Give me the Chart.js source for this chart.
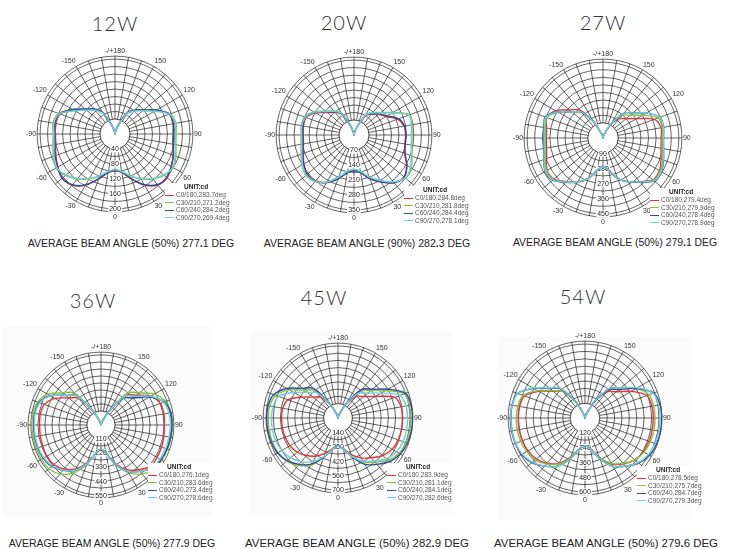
<!DOCTYPE html>
<html>
<head>
<meta charset="utf-8">
<script src="https://cdn.jsdelivr.net/npm/chart.js@4.4.1/dist/chart.umd.min.js"></script>
<style>
  html, body { margin: 0; padding: 0; background: #fff; }
  body { width: 737px; height: 549px; position: relative; overflow: hidden;
         font-family: "Liberation Sans", Arial, sans-serif; }
  .title { position: absolute; width: 120px; margin-left: -60px; text-align: center;
           font-family: Lato, "Open Sans", sans-serif; font-weight: 300; font-size: 20px;
           line-height: 20px; margin-top: -10px; color: #333; letter-spacing: 1px; }
  .caption { position: absolute; width: 260px; margin-left: -130px; text-align: center;
             color: #222; white-space: nowrap; line-height: 12px; margin-top: -6px; }
  .plot { position: absolute; }
  .paper { position: absolute; background: #fbfbfb; }
  .legend { position: absolute; font-size: 6.5px; line-height: 7.5px; color: #555;
            white-space: nowrap; background: #fff; margin-top: -4px; }
  .legend .unit { padding-left: 19px; font-weight: bold; color: #222; margin-bottom: 0.5px; }
  .legend i { display: inline-block; width: 9px; height: 1.3px; vertical-align: middle;
              margin-right: 2px; }
</style>
</head>
<body>
<script>
// angle labels, clockwise from the top (C-angle 180 down to -170, every 10 deg)
const angleLabels = ['-/+180','','','150','','','120','','','90','','','60','','','30','','',
                     '0','','','-30','','','-60','','','-90','','','-120','','','-150','',''];

const seriesNames = ['C0/180', 'C30/210', 'C60/240', 'C90/270'];
const seriesColors = ['#e5333b', '#84c341', '#304c9c', '#70cfdb'];

// 12W
const w12Rings = [40, 80, 120, 160, 200];
const w12C0  = [0, 6, 24, 64, 82, 98, 126, 154, 157, 155, 157, 165, 174, 182, 178, 158, 128, 104, 98, 105, 128, 158, 178, 184, 176, 168, 161, 159, 161, 156, 128, 100, 84, 64, 24, 6];
const w12C30 = [0, 6, 24, 64, 82, 98, 124, 157, 165, 163, 165, 173, 180, 172, 157, 138, 120, 102, 96, 102, 120, 138, 157, 172, 182, 176, 168, 165, 168, 160, 126, 100, 84, 64, 24, 6];
const w12C60 = [0, 6, 25, 66, 84, 100, 128, 155, 158, 156, 158, 166, 173, 180, 176, 156, 127, 103, 97, 104, 127, 157, 177, 184, 177, 170, 163, 161, 163, 158, 131, 104, 88, 67, 26, 6];
const w12C90 = [0, 6, 23, 62, 80, 96, 122, 155, 163, 161, 163, 171, 178, 170, 155, 137, 119, 101, 95, 101, 119, 137, 155, 170, 180, 174, 166, 163, 166, 158, 124, 99, 83, 63, 23, 6];
const w12Legend = ['C0/180,283.7deg', 'C30/210,271.2deg', 'C60/240,284.2deg', 'C90/270,269.4deg'];

// 20W
const w20Rings = [70, 140, 210, 280, 350];
const w20C0  = [0, 7, 35, 105, 126, 150, 173, 217, 238, 241, 242, 252, 284, 305, 290, 252, 217, 179, 166, 179, 217, 256, 280, 284, 270, 252, 240, 237, 240, 238, 207, 163, 137, 112, 39, 7];
const w20C30 = [0, 7, 35, 112, 137, 163, 210, 277, 275, 271, 275, 288, 309, 315, 287, 245, 210, 175, 161, 175, 210, 256, 284, 294, 280, 263, 251, 247, 251, 245, 217, 173, 146, 119, 42, 7];
const w20C60 = [0, 7, 35, 107, 130, 154, 178, 222, 240, 242, 243, 254, 286, 306, 292, 254, 218, 180, 167, 180, 218, 257, 281, 286, 272, 254, 242, 239, 242, 242, 212, 168, 140, 114, 39, 7];
const w20C90 = [0, 7, 35, 110, 135, 160, 206, 272, 272, 268, 272, 284, 305, 312, 285, 244, 208, 173, 160, 173, 208, 255, 283, 292, 278, 260, 248, 245, 248, 243, 214, 171, 144, 117, 40, 7];
const w20Legend = ['C0/180,284.8deg', 'C30/210,281.8deg', 'C60/240,284.4deg', 'C90/270,278.1deg'];

// 27W
const w27Rings = [90, 180, 270, 360, 450];
const w27C0  = [0, 5, 27, 90, 150, 179, 230, 324, 350, 345, 350, 367, 387, 387, 338, 299, 255, 193, 167, 193, 255, 299, 338, 380, 383, 356, 340, 335, 340, 356, 324, 259, 218, 113, 27, 5];
const w27C30 = [0, 5, 27, 95, 176, 209, 268, 347, 357, 352, 357, 374, 393, 391, 340, 301, 257, 194, 168, 194, 257, 301, 342, 385, 387, 365, 347, 342, 347, 356, 306, 236, 198, 108, 27, 5];
const w27C60 = [0, 5, 27, 99, 193, 230, 295, 360, 365, 359, 365, 382, 401, 396, 342, 302, 257, 194, 168, 194, 257, 302, 344, 389, 396, 374, 356, 351, 356, 365, 311, 241, 203, 108, 27, 5];
const w27C90 = [0, 5, 27, 99, 193, 230, 296, 358, 364, 358, 364, 380, 399, 394, 340, 301, 256, 193, 168, 193, 256, 301, 342, 387, 394, 372, 354, 349, 354, 362, 310, 240, 202, 108, 27, 5];
const w27Legend = ['C0/180,279.4deg', 'C30/210,279.9deg', 'C60/240,278.4deg', 'C90/270,278.9deg'];

// 36W
const w36Rings = [110, 220, 330, 440, 550];
const w36C0  = [0, 6, 33, 132, 305, 363, 451, 495, 501, 497, 501, 506, 508, 506, 458, 405, 319, 226, 193, 226, 314, 398, 451, 484, 490, 486, 484, 482, 484, 473, 418, 330, 277, 127, 33, 6];
const w36C30 = [0, 6, 33, 132, 329, 392, 484, 539, 558, 558, 558, 556, 550, 539, 503, 432, 330, 220, 188, 220, 330, 435, 501, 534, 539, 541, 542, 542, 542, 528, 484, 392, 329, 132, 33, 6];
const w36C60 = [0, 6, 33, 127, 277, 330, 440, 528, 556, 558, 556, 550, 545, 528, 475, 420, 325, 222, 189, 222, 325, 411, 465, 506, 523, 528, 529, 529, 529, 517, 462, 360, 301, 127, 33, 6];
const w36C90 = [0, 6, 33, 127, 295, 351, 451, 523, 542, 545, 542, 539, 534, 523, 475, 420, 325, 222, 189, 222, 325, 411, 462, 501, 517, 523, 524, 524, 524, 512, 457, 360, 301, 127, 33, 6];
const w36Legend = ['C0/180,276.1deg', 'C30/210,283.6deg', 'C60/240,273.4deg', 'C90/270,278.6deg'];

// 45W
const w45Rings = [140, 280, 420, 560, 700];
const w45C0  = [0, 7, 42, 154, 273, 325, 420, 588, 623, 627, 627, 623, 609, 567, 504, 447, 378, 301, 273, 301, 364, 427, 476, 518, 539, 546, 549, 549, 546, 518, 406, 315, 266, 154, 42, 7];
const w45C30 = [0, 7, 42, 168, 349, 416, 535, 686, 706, 708, 708, 703, 686, 637, 560, 494, 399, 308, 273, 308, 406, 532, 602, 651, 672, 679, 679, 679, 675, 644, 546, 420, 353, 168, 42, 7];
const w45C60 = [0, 7, 42, 168, 365, 435, 560, 700, 721, 724, 724, 717, 700, 658, 588, 521, 406, 308, 273, 308, 406, 518, 588, 644, 679, 689, 693, 693, 690, 665, 574, 448, 378, 168, 42, 7];
const w45C90 = [0, 7, 42, 161, 315, 375, 482, 644, 672, 676, 676, 672, 658, 616, 546, 483, 399, 308, 273, 308, 399, 490, 553, 602, 630, 644, 647, 647, 641, 616, 497, 385, 322, 161, 42, 7];
const w45Legend = ['C0/180,283.9deg', 'C30/210,281.1deg', 'C60/240,284.1deg', 'C90/270,282.6deg'];

// 54W
const w54Rings = [120, 240, 360, 480, 600];
const w54C0  = [0, 6, 36, 150, 278, 332, 432, 534, 552, 554, 554, 552, 546, 528, 486, 431, 342, 252, 224, 252, 336, 426, 480, 516, 534, 540, 542, 542, 540, 522, 432, 336, 282, 150, 36, 6];
const w54C30 = [0, 6, 36, 156, 319, 380, 480, 552, 566, 568, 568, 564, 554, 528, 480, 425, 342, 252, 224, 252, 342, 432, 486, 528, 546, 554, 558, 558, 554, 534, 444, 342, 288, 150, 36, 6];
const w54C60 = [0, 6, 36, 156, 302, 360, 480, 594, 618, 622, 622, 618, 606, 570, 510, 454, 354, 258, 224, 258, 354, 454, 510, 564, 594, 602, 606, 606, 602, 582, 480, 372, 312, 156, 36, 6];
const w54C90 = [0, 6, 36, 156, 319, 380, 492, 588, 606, 608, 608, 606, 594, 564, 510, 454, 354, 258, 224, 258, 354, 454, 510, 558, 588, 600, 602, 602, 600, 582, 486, 378, 318, 156, 36, 6];
const w54Legend = ['C0/180,278.5deg', 'C30/210,275.7deg', 'C60/240,284.7deg', 'C90/270,279.3deg'];

const plots = [
  { title: '12W', rings: w12Rings, series: [w12C0, w12C30, w12C60, w12C90], legend: w12Legend,
    caption: 'AVERAGE BEAM ANGLE (50%) 277.1 DEG' },
  { title: '20W', rings: w20Rings, series: [w20C0, w20C30, w20C60, w20C90], legend: w20Legend,
    caption: 'AVERAGE BEAM ANGLE (90%) 282.3 DEG' },
  { title: '27W', rings: w27Rings, series: [w27C0, w27C30, w27C60, w27C90], legend: w27Legend,
    caption: 'AVERAGE BEAM ANGLE (50%) 279.1 DEG' },
  { title: '36W', rings: w36Rings, series: [w36C0, w36C30, w36C60, w36C90], legend: w36Legend,
    caption: 'AVERAGE BEAM ANGLE (50%) 277.9 DEG' },
  { title: '45W', rings: w45Rings, series: [w45C0, w45C30, w45C60, w45C90], legend: w45Legend,
    caption: 'AVERAGE BEAM ANGLE (50%) 282.9 DEG' },
  { title: '54W', rings: w54Rings, series: [w54C0, w54C30, w54C60, w54C90], legend: w54Legend,
    caption: 'AVERAGE BEAM ANGLE (50%) 279.6 DEG' }
];

// where each diagram sits on the page (paper = faint backing of the pasted plot)
const layout = [
  { cx: 115, cy: 134, r: 78, tx: 115, ty: 23,  capX: 131, capY: 243, capSize: 10.5, lx: 165, ly: 187, paper: null },
  { cx: 354, cy: 135, r: 78, tx: 344, ty: 22,  capX: 367, capY: 243, capSize: 10.5, lx: 404, ly: 190, paper: null },
  { cx: 603, cy: 138, r: 79, tx: 603, ty: 22,  capX: 615, capY: 243, capSize: 10.4, lx: 650, ly: 192, paper: null },
  { cx: 101, cy: 425, r: 73, tx: 93,  ty: 300, capX: 112, capY: 543, capSize: 10.5, lx: 148, ly: 467, paper: [3, 326, 209, 191] },
  { cx: 338, cy: 418, r: 75, tx: 324, ty: 297, capX: 357, capY: 543, capSize: 11.4, lx: 387, ly: 467, paper: [251, 331, 201, 184] },
  { cx: 585, cy: 418, r: 77, tx: 583, ty: 296, capX: 606, capY: 543, capSize: 11.4, lx: 637, ly: 470, paper: [499, 337, 193, 183] }
];

const GRID = '#222';

// white hub + intensity labels down the 0 deg spoke
const polarExtras = {
  id: 'polarExtras',
  beforeDatasetsDraw(chart, args, opts) {
    const s = chart.scales.r, ctx = chart.ctx;
    const r0 = s.getDistanceFromCenterForValue(opts.rings[0]);
    ctx.save();
    ctx.beginPath();
    ctx.arc(s.xCenter, s.yCenter, r0, 0, Math.PI * 2);
    ctx.fillStyle = '#fff';
    ctx.fill();
    ctx.lineWidth = 0.7;
    ctx.strokeStyle = GRID;
    ctx.stroke();
    ctx.font = '7px "Liberation Sans", Arial, sans-serif';
    ctx.textAlign = 'center';
    ctx.textBaseline = 'middle';
    opts.rings.forEach(v => {
      const y = s.yCenter + s.getDistanceFromCenterForValue(v);
      const t = String(v);
      const w = ctx.measureText(t).width;
      ctx.fillStyle = '#fff';
      ctx.fillRect(s.xCenter - w / 2 - 1, y - 3.5, w + 2, 7);
      ctx.fillStyle = '#222';
      ctx.fillText(t, s.xCenter, y + 0.5);
    });
    ctx.restore();
  }
};

function makeConfig(p) {
  const step = p.rings[0];
  const ringValues = [0];
  for (let k = 1; k <= 10; k++) ringValues.push(step * k / 2);
  ringValues.push(step * 5.2);
  return {
    type: 'radar',
    data: {
      labels: angleLabels,
      datasets: p.series.map((d, k) => ({
        label: seriesNames[k],
        data: d,
        borderColor: seriesColors[k],
        borderWidth: 1.4,
        fill: false,
        pointRadius: 0,
        pointHoverRadius: 0,
        tension: 0.3,
        order: 3 - k
      }))
    },
    options: {
      responsive: false,
      maintainAspectRatio: false,
      animation: false,
      events: [],
      layout: { padding: 0 },
      plugins: {
        legend: { display: false },
        tooltip: { enabled: false },
        polarExtras: { rings: p.rings }
      },
      scales: {
        r: {
          min: 0,
          max: step * 5.2,
          startAngle: 0,
          afterBuildTicks: s => { s.ticks = ringValues.map(v => ({ value: v })); },
          ticks: { display: false },
          grid: { circular: true, color: GRID, lineWidth: 0.7 },
          angleLines: { color: GRID, lineWidth: 0.7 },
          pointLabels: {
            color: '#333',
            padding: 1,
            font: { size: 7, family: '"Liberation Sans", Arial, sans-serif' }
          }
        }
      }
    },
    plugins: [polarExtras]
  };
}

function addDiv(cls, html, x, y) {
  const d = document.createElement('div');
  d.className = cls;
  d.innerHTML = html;
  d.style.left = x + 'px';
  d.style.top = y + 'px';
  document.body.appendChild(d);
  return d;
}

plots.forEach((p, i) => {
  const lay = layout[i];

  if (lay.paper) {
    const pp = addDiv('paper', '', lay.paper[0], lay.paper[1]);
    pp.style.width = lay.paper[2] + 'px';
    pp.style.height = lay.paper[3] + 'px';
  }

  addDiv('title', p.title, lay.tx, lay.ty);
  const cap = addDiv('caption', p.caption.replace('.', '<b>.</b>'), lay.capX, lay.capY);
  cap.style.fontSize = lay.capSize + 'px';

  const box = document.createElement('div');
  box.className = 'plot';
  document.body.appendChild(box);

  let size = Math.round(2 * lay.r + 36);
  let chart = null;
  for (let pass = 0; pass < 3; pass++) {
    if (chart) chart.destroy();
    box.innerHTML = '';
    const cv = document.createElement('canvas');
    cv.width = size;
    cv.height = size;
    box.appendChild(cv);
    chart = new Chart(cv, makeConfig(p));
    const diff = lay.r - chart.scales.r.drawingArea;
    if (Math.abs(diff) < 0.5) break;
    size = Math.round(size + 2 * diff);
  }
  const s = chart.scales.r;
  box.style.left = (lay.cx - s.xCenter) + 'px';
  box.style.top = (lay.cy - s.yCenter) + 'px';

  let leg = '<div class="unit">UNIT:cd</div>';
  p.legend.forEach((t, k) => {
    leg += '<div><i style="background:' + seriesColors[k] + '"></i>' + t + '</div>';
  });
  addDiv('legend', leg, lay.lx, lay.ly);
});
</script>
</body>
</html>
